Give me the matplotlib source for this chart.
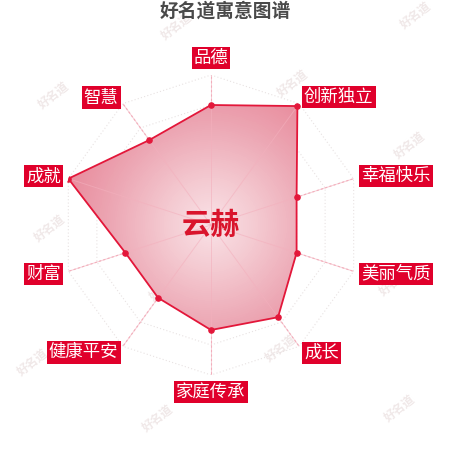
import numpy as np
import matplotlib
matplotlib.use("Agg")
import matplotlib.pyplot as plt
from matplotlib.patches import Polygon
from matplotlib.colors import LinearSegmentedColormap

plt.rcParams['font.family'] = ['Noto Sans CJK SC', 'DejaVu Sans']

categories = ['品德', '创新独立', '幸福快乐', '美丽气质', '成长',
              '家庭传承', '健康平安', '财富', '成就', '智慧']
values = [80, 98, 60, 60, 76, 70, 60, 60, 100, 70]
title = '好名道寓意图谱'
name = '云赫'
watermark = '好名道'

RED = '#e0002b'
LINE = '#e3173a'

fig = plt.figure(figsize=(4.5, 4.5), dpi=100)
fig.patch.set_facecolor('white')

# watermarks (background)
wm_pos = [(177, 26), (416, 15), (54, 95), (293, 83), (410, 145), (50, 228),
          (165, 287), (395, 282), (33, 362), (281, 348), (158, 418), (400, 408)]
for (px, py) in wm_pos:
    fig.text(px / 450, 1 - py / 450, watermark, fontsize=8.5, color='#f0e8e8',
             rotation=38, ha='center', va='center', fontweight='bold', zorder=0)

ax = fig.add_axes([(211 - 150) / 450, (450 - 225 - 150) / 450, 300 / 450, 300 / 450],
                  projection='polar')
ax.set_zorder(2)
ax.set_theta_zero_location('N')
ax.set_theta_direction(-1)
ax.set_ylim(0, 100)
ax.set_facecolor('none')
ax.patch.set_alpha(0)
ax.grid(False)
ax.spines['polar'].set_visible(False)
ax.set_xticks([])
ax.set_yticks([])

n = len(categories)
theta = np.arange(n) * 2 * np.pi / n
theta_c = np.append(theta, theta[0])

# polygon grid rings
for r in [20, 40, 60, 80, 100]:
    ax.plot(theta_c, np.full(n + 1, r), color='#e8e2e2', lw=0.8,
            linestyle=(0, (1, 2)), zorder=1)
# spokes
for t in theta:
    ax.plot([t, t], [0, 100], color='#f2adba', lw=0.8, linestyle=(0, (2, 2)), zorder=1)

# gradient fill clipped to data polygon
vals_c = np.append(values, values[0])
cmap = LinearSegmentedColormap.from_list('pk', ['#f9e2e6', '#f3c6ce', '#eca6b3', '#e88b9c'])
T, R = np.meshgrid(np.linspace(0, 2 * np.pi, 200), np.linspace(0, 100, 80))
mesh = ax.pcolormesh(T, R, R[:-1, :-1], cmap=cmap, vmin=0, vmax=100,
                     shading='flat', zorder=2)
poly = Polygon(np.column_stack([theta_c, vals_c]), closed=True,
               transform=ax.transData, facecolor='none', edgecolor='none')
ax.add_patch(poly)
mesh.set_clip_path(poly)

# inner spokes over fill
for t in theta:
    ax.plot([t, t], [0, 100], color='#f3b0bd', lw=0.7, alpha=0.6, zorder=3)

ax.plot(theta_c, vals_c, color=LINE, lw=1.3, zorder=4)
ax.scatter(theta, values, s=14, color=LINE, zorder=5)

# labels
for t, lab in zip(theta, categories):
    deg = np.degrees(t) % 360
    if deg < 1 or abs(deg - 180) < 1:
        ha, r = 'center', 111.5
    elif deg < 180:
        ha, r = 'left', 105.5
    else:
        ha, r = 'right', 105
    ax.text(t, r, lab, ha=ha, va='center', fontsize=12.5, color='white',
            bbox=dict(boxstyle='square,pad=0.12', facecolor=RED, edgecolor='none'),
            zorder=6, clip_on=False)

ax.text(0, 0, name, ha='center', va='center', fontsize=21, fontweight='bold',
        color='#d9142c', zorder=7)

fig.text(225 / 450, 1 - 11 / 450, title, ha='center', va='center', fontsize=13.5,
         fontweight='bold', color='#4a4a4a')

fig.savefig('out.png', dpi=100, facecolor='white')
